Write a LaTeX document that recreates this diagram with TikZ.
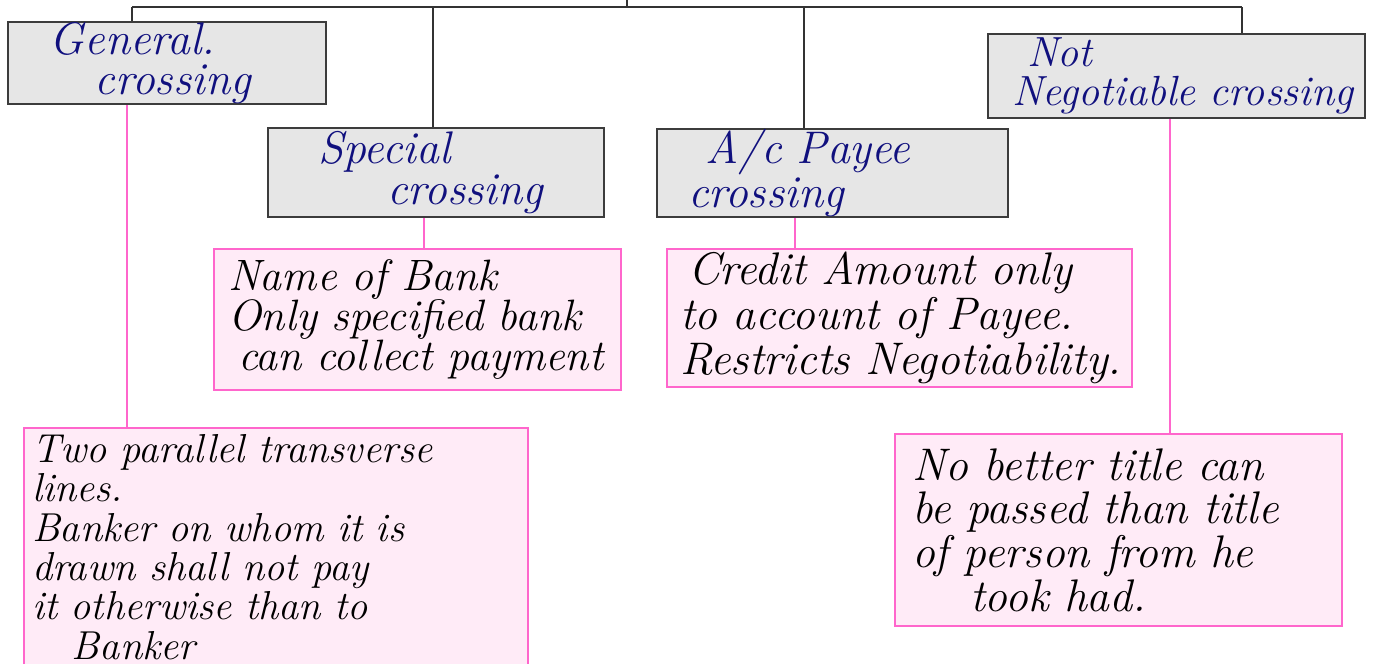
\documentclass[tikz,border=0pt]{standalone}
\usepackage{fontspec}
\usetikzlibrary{positioning, calc}
\definecolor{boxgray}{HTML}{E6E6E6}
\definecolor{boxedge}{HTML}{3C3C3C}
\definecolor{notepink}{HTML}{FFEBF7}
\definecolor{pinkedge}{HTML}{FF66CC}
\definecolor{inkblue}{HTML}{10107E}
\newcommand{\inkfont}[3]{\fontsize{#1}{#2}\selectfont\itshape\addfontfeatures{LetterSpace=#3}}
\tikzset{
  crossbox/.style = {rectangle, draw=boxedge, line width=0.6pt, fill=boxgray, align=left,
                     inner ysep=0pt, text=inkblue, font=\inkfont{13}{11.5}{0}},
  notebox/.style  = {rectangle, draw=pinkedge, line width=0.55pt, fill=notepink, align=left,
                     inner ysep=0pt, text=black, font=\inkfont{12.5}{11.5}{0}},
  tree/.style     = {draw=black!80, line width=0.45pt},
  link/.style     = {draw=pinkedge, line width=0.45pt},
}

\begin{document}
\begin{tikzpicture}[y=-1cm]
\useasboundingbox (0,0) rectangle (13.76,6.63);

% =============== KINDS OF CROSSING ===============
\node (gen) [crossbox, text width=2.34cm, inner xsep=0.42cm, minimum height=0.72cm] at (1.67,0.63)
  {General.\\\hspace*{0.45cm}crossing};
\node (spec) [crossbox, font=\inkfont{13}{11.5}{5}, text width=2.36cm, inner xsep=0.50cm,
              minimum height=0.89cm] at (4.36,1.725)
  {Special\\\hspace*{0.69cm}crossing};
\node (payee) [crossbox, text width=2.89cm, inner xsep=0.31cm, minimum height=0.84cm] at (8.325,1.73)
  {\hspace*{0.17cm}A/c Payee\\crossing};
\node (notneg) [crossbox, font=\inkfont{12}{11}{0}, text width=3.29cm, inner xsep=0.24cm,
                minimum height=0.84cm] at (11.765,0.76)
  {\hspace*{0.15cm}Not\\\mbox{Negotiable crossing}};

% =============== NOTES ===============
\node (specNote) [notebox, font=\inkfont{12.5}{11.5}{3}, text width=3.79cm, inner xsep=0.14cm,
                  minimum height=1.41cm] at (4.175,3.195)
  {Name of Bank\\\mbox{Only specified bank}\\\hspace*{0.1cm}\mbox{can collect payment}};
\node (payeeNote) [notebox, font=\inkfont{13}{11}{4}, text width=4.39cm, inner xsep=0.13cm,
                   minimum height=1.38cm] at (8.995,3.18)
  {\hspace*{0.08cm}\mbox{Credit Amount only}\\\mbox{to account of Payee.}\\\mbox{Restricts Negotiability.}};
\node (genNote) [notebox, font=\inkfont{11.5}{11.2}{6}, text width=4.88cm, inner xsep=0.08cm,
                 minimum height=2.38cm] at (2.76,5.47)
  {\mbox{Two parallel transverse}\\lines.\\\mbox{Banker on whom it is}\\\mbox{drawn shall not pay}\\
   \mbox{it otherwise than to}\\\hspace*{0.40cm}Banker};
\node (notnegNote) [notebox, font=\inkfont{13}{12.4}{10}, text width=4.13cm, inner xsep=0.17cm,
                    minimum height=1.92cm] at (11.185,5.30)
  {\mbox{No better title can}\\\mbox{be passed than title}\\\mbox{of person from he}\\\hspace*{0.58cm}took had.};

% =============== TREE ===============
\coordinate (root) at (6.27,0.07);
\coordinate (stem) at (6.27,0);
\coordinate (busW) at (1.32,0.07);
\coordinate (busE) at (12.42,0.07);
\draw[tree] (stem) -- (root);
\draw[tree] (busW) -- (busE);
\foreach \x/\b in {1.32/gen, 4.33/spec, 8.04/payee, 12.42/notneg}{
  \coordinate (d\b) at (\x,0.07);
  \draw[tree] (d\b) -- (d\b |- \b.north);
}

% crossing -> note
\foreach \x/\b in {1.27/gen, 4.24/spec, 7.95/payee, 11.70/notneg}{
  \coordinate (l\b) at (\x,0);
  \draw[link] (l\b |- \b.south) -- (l\b |- \b Note.north);
}

\end{tikzpicture}
\end{document}
